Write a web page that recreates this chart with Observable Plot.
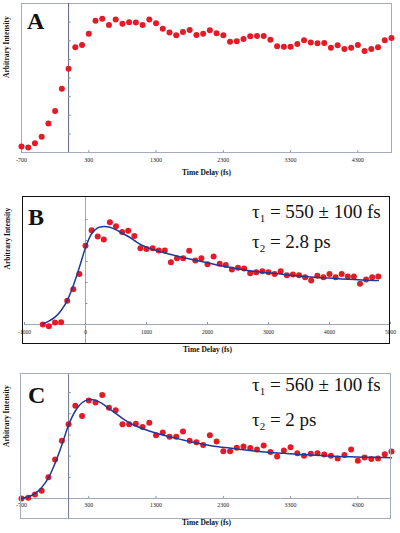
<!DOCTYPE html>
<html><head><meta charset="utf-8">
<script src="https://cdn.jsdelivr.net/npm/d3@7"></script>
<script src="https://cdn.jsdelivr.net/npm/@observablehq/plot@0.6"></script>
<style>
body{margin:0;background:#fff}
#wrap{position:relative;width:400px;height:533px;overflow:hidden;background:#fff;font-family:"Liberation Serif","Times New Roman",serif}
.panel{position:absolute;left:0}
.letter{position:absolute;font-weight:bold;font-size:24px;line-height:24px;color:#111}
.tau{position:absolute;left:252px;font-size:19px;line-height:19px;white-space:nowrap;color:#111;font-family:"Liberation Serif","DejaVu Serif",serif}
.tau sub{font-size:11px;vertical-align:-4px;line-height:0}
.box{position:absolute;box-sizing:border-box;pointer-events:none}
</style></head>
<body><div id="wrap"></div>
<script>
// ---- data ----
const delays = [-700,-600,-500,-400,-300,-200,-100,0,100,200,300,400,500,600,700,800,900,1000,1100,1200,1300,1400,1500,1600,1700,1800,1900,2000,2100,2200,2300,2400,2500,2600,2700,2800,2900,3000,3100,3200,3300,3400,3500,3600,3700,3800,3900,4000,4100,4200,4300,4400,4500,4600,4700,4800];
const intensityA = [0.32,0.27,0.50,0.85,1.56,2.23,3.42,4.50,5.65,5.77,6.37,7.07,7.18,6.85,7.14,6.91,7.00,6.98,6.85,7.14,6.94,6.64,6.44,6.29,6.47,6.58,6.31,6.37,6.56,6.40,6.29,5.95,5.97,6.10,6.24,6.26,6.26,6.06,5.70,5.68,5.68,5.83,6.03,5.90,5.86,5.88,5.63,5.76,5.56,5.63,5.77,5.45,5.56,5.65,6.03,6.15];
const intensityB = [0.00,-0.08,0.10,0.11,1.13,1.68,2.40,3.75,4.49,4.19,4.05,4.87,4.68,4.40,4.46,4.21,3.63,3.59,3.63,3.52,3.52,2.97,3.16,3.16,3.51,3.05,3.16,2.87,3.24,2.89,2.83,2.62,2.70,2.67,2.44,2.49,2.54,2.49,2.40,2.54,2.35,2.38,2.35,2.25,2.10,2.32,2.25,2.40,2.25,2.40,2.29,2.29,1.94,2.14,2.25,2.29];
const intensityC = [0.00,0.03,0.19,0.36,1.00,1.84,2.72,3.50,4.38,3.89,4.63,4.53,4.89,4.28,4.16,3.50,3.50,3.53,3.38,3.58,2.98,3.11,2.91,2.91,3.16,2.72,2.66,2.53,2.98,2.69,2.23,2.23,2.39,2.45,2.38,2.31,2.50,2.19,1.98,2.27,2.42,2.14,2.02,2.11,2.14,2.08,2.02,1.89,2.05,2.31,1.78,1.94,1.86,1.89,2.09,2.22];
const fitTimes = [-700,-600,-500,-400,-300,-200,-100,0,100,200,300,400,500,600,700,800,900,1000,1200,1400,1600,1800,2000,2200,2400,2600,2800,3000,3200,3400,3600,3800,4000,4200,4400,4600,4800];
const fitB = [0.03,0.16,0.35,0.67,1.14,1.86,2.73,3.65,4.32,4.60,4.67,4.63,4.51,4.35,4.19,4.00,3.81,3.68,3.49,3.33,3.19,3.06,2.94,2.81,2.70,2.60,2.52,2.46,2.40,2.33,2.29,2.24,2.21,2.17,2.14,2.11,2.10];
const fitC = [0.00,0.08,0.23,0.52,0.97,1.67,2.53,3.47,4.13,4.52,4.67,4.64,4.48,4.25,4.02,3.78,3.58,3.42,3.19,3.00,2.84,2.69,2.56,2.45,2.38,2.30,2.23,2.17,2.13,2.08,2.05,2.02,1.98,1.97,1.95,1.94,1.92];
const xTicksAC = [-700,300,1300,2300,3300,4300];
const xTicksB = [-1000,0,1000,2000,3000,4000,5000];
const yTicksA = [1,2,3,4,5,6,7];
const yTicksBC = [1,2,3,4,5];
const panelLetters = ["A","B","C"];
const tauB = ["550 ± 100 fs","2.8 ps"];
const tauC = ["560 ± 100 fs","2 ps"];
const xLabel = "Time Delay (fs)";
const yLabel = "Arbitrary Intensity";

const RED = "#e41a27", NAVY = "#1f3a93";
const wrap = document.getElementById("wrap");

function makePanel(o){
  const pts = delays.map((t,i)=>({t, v:o.ys[i]}));
  const marks = [];
  if (o.frame) marks.push(Plot.frame({stroke:"#a4abbd"}));
  if (o.zeroLine) marks.push(Plot.ruleY([0],{stroke:"#9fa7bc"}));
  marks.push(Plot.ruleX([0],{y1:o.vBottom, y2:o.vTop, stroke:o.vColor, strokeWidth:1}));
  marks.push(Plot.ruleY(o.yTicks,{x1:0, x2:o.yTickLen, stroke:"#8a93ab"}));
  marks.push(Plot.ruleX(o.xTicks,{y1:0, y2:o.xTickLen, stroke:"#8a93ab"}));
  marks.push(Plot.axisX({ticks:o.xTicks, tickSize:0, tickPadding:o.tickPad, tickFormat:d=>String(d), fontSize:o.tickFont, fill:"#222", label:null}));
  marks.push(Plot.dot(pts,{x:"t", y:"v", r:3, fill:RED}));
  if (o.fit) {
    const fr = fitTimes.map((t,i)=>({t, v:o.fit[i]}));
    marks.push(Plot.line(fr,{x:"t", y:"v", stroke:NAVY, strokeWidth:1.5, curve:"catmull-rom"}));
  }
  marks.push(Plot.text([xLabel],{frameAnchor:"bottom", dy:o.xLabelDy, fontWeight:"bold", fontSize:7.5, fill:"#111"}));
  marks.push(Plot.text([yLabel],{frameAnchor:"left", rotate:-90, dx:o.yLabelDx, dy:o.yLabelDy, fontWeight:"bold", fontSize:7.5, fill:"#111"}));
  const svg = Plot.plot({
    width:400, height:o.height,
    marginTop:o.mt, marginBottom:o.mb, marginLeft:o.ml, marginRight:o.mr,
    x:{domain:o.xDomain, axis:null},
    y:{domain:o.yDomain, axis:null},
    style:{fontFamily:'"Liberation Serif","Times New Roman",serif', background:"transparent"},
    marks
  });
  svg.classList.add("panel");
  svg.style.top = o.top + "px";
  wrap.appendChild(svg);
}

// Panel A
makePanel({top:0, height:180, mt:3, mb:28, ml:21, mr:9, xDomain:[-700,4800], yDomain:[0,8],
  ys:intensityA, frame:true, zeroLine:false, vBottom:0, vTop:8, vColor:"#5d6786",
  yTicks:yTicksA, yTickLen:40, xTicks:xTicksAC, xTickLen:0.1, tickPad:5, tickFont:6,
  xLabelDy:22, yLabelDx:-15, yLabelDy:0});
// Panel B
makePanel({top:190, height:164, mt:8, mb:30, ml:24, mr:10, xDomain:[-1000,5000], yDomain:[0,6],
  ys:intensityB, fit:fitB, frame:false, zeroLine:true, vBottom:-0.95, vTop:6.1, vColor:"#9ea7c2",
  yTicks:yTicksBC, yTickLen:40, xTicks:xTicksB, xTickLen:0.1, tickPad:6, tickFont:5.5,
  xLabelDy:27, yLabelDx:-17, yLabelDy:8});
// Panel C
makePanel({top:360, height:173, mt:13, mb:35, ml:21, mr:9, xDomain:[-700,4800], yDomain:[0,5.9],
  ys:intensityC, fit:fitC, frame:false, zeroLine:true, vBottom:-1, vTop:5.9, vColor:"#6d7794",
  yTicks:yTicksBC, yTickLen:40, xTicks:xTicksAC, xTickLen:0.1, tickPad:4, tickFont:6,
  xLabelDy:26, yLabelDx:-15, yLabelDy:11});

// frames
function box(l,t,w,h,border){const d=document.createElement("div");d.className="box";Object.assign(d.style,{left:l+"px",top:t+"px",width:w+"px",height:h+"px",border});wrap.appendChild(d);}
box(22,196,368,148,"1.5px solid #111");
box(20,373,371,146,"1px solid #a4abbd");

// letters
[[27,9],[28,205],[28,383]].forEach(([l,t],i)=>{const d=document.createElement("div");d.className="letter";d.style.left=l+"px";d.style.top=t+"px";d.textContent=panelLetters[i];wrap.appendChild(d);});

// tau annotations
function tau(top, idx, txt){const d=document.createElement("div");d.className="tau";d.style.top=top+"px";d.innerHTML='τ<sub>'+idx+'</sub> = '+txt;wrap.appendChild(d);}
tau(202,1,tauB[0]); tau(232,2,tauB[1]);
tau(375,1,tauC[0]); tau(410,2,tauC[1]);
</script></body></html>
